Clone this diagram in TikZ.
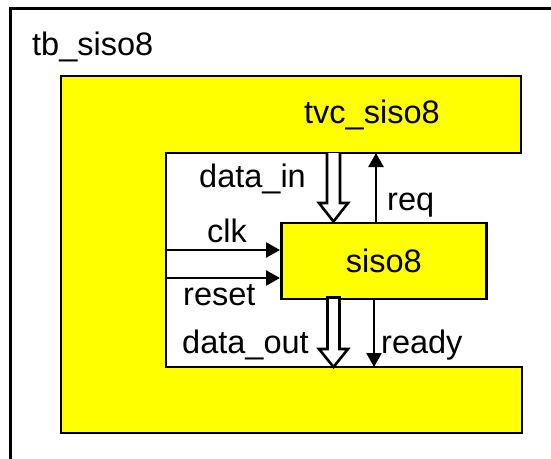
\documentclass[tikz,border=0pt]{standalone}
\usepackage{fontspec}
\setmainfont{Liberation Sans}
\usetikzlibrary{arrows.meta}
\definecolor{ylw}{RGB}{255,255,0}
\tikzset{
  lw/.style={line width=2.6pt},
  lbl/.style={inner sep=0pt, anchor=base west, font=\fontsize{32.5}{38}\selectfont},
  sig/.style={lw, -{Triangle[length=14pt,width=15pt]}},
  bus/.style={lw, fill=white, line join=miter},
  blk/.style={lw, fill=ylw, draw=black, line join=miter}
}
\begin{document}
\begin{tikzpicture}[x=1pt,y=-1pt]
\clip (0,0) rectangle (551,458);
\fill[white] (0,0) rectangle (551,458);
% outer testbench frame
\draw[lw] (10.5,8.5) rectangle (620,520);
\node[lbl] (tb) at (32,55) {tb\_siso8};
% tvc_siso8 C-shaped block
\draw[blk] (61,76) -- (521,76) -- (521,153) -- (166,153) -- (166,367) -- (522,367) -- (522,433) -- (61,433) -- cycle;
\node[lbl] (tvc) at (304,123) {tvc\_siso8};
% siso8 block
\node[blk, minimum width=205pt, minimum height=76pt, anchor=north west, inner sep=0pt] (dut) at (280,221.5) {};
\node[inner sep=0pt, font=\fontsize{32.5}{38}\selectfont] (dutl) at (dut.center) {siso8};
% coordinates
\coordinate (clkS) at (166,250);
\coordinate (rstS) at (166,278);
\coordinate (reqT) at (376,153);
\coordinate (rdyT) at (374,367);
% control signals
\draw[sig] (clkS) -- (clkS -| dut.west);
\draw[sig] (rstS) -- (rstS -| dut.west);
\draw[sig] (reqT |- dut.north) -- (reqT);
\draw[sig] (rdyT |- dut.south) -- (rdyT);
% bus arrows
\draw[bus] (327,153) -- (327,203) -- (319,203) -- (333.5,221.5) -- (348,203) -- (340,203) -- (340,153);
\draw[bus] (327.5,297.5) -- (327.5,349) -- (319,349) -- (333.5,367) -- (348,349) -- (339.5,349) -- (339.5,297.5) -- cycle;
% labels
\node[lbl] (ldin) at (199,187) {data\_in};
\node[lbl] (lclk) at (207,242) {clk};
\node[lbl] (lrst) at (183,305) {reset};
\node[lbl] (ldout) at (182,353) {data\_out};
\node[lbl] (lreq) at (387,210) {req};
\node[lbl] (lrdy) at (381,353) {ready};
\end{tikzpicture}
\end{document}
